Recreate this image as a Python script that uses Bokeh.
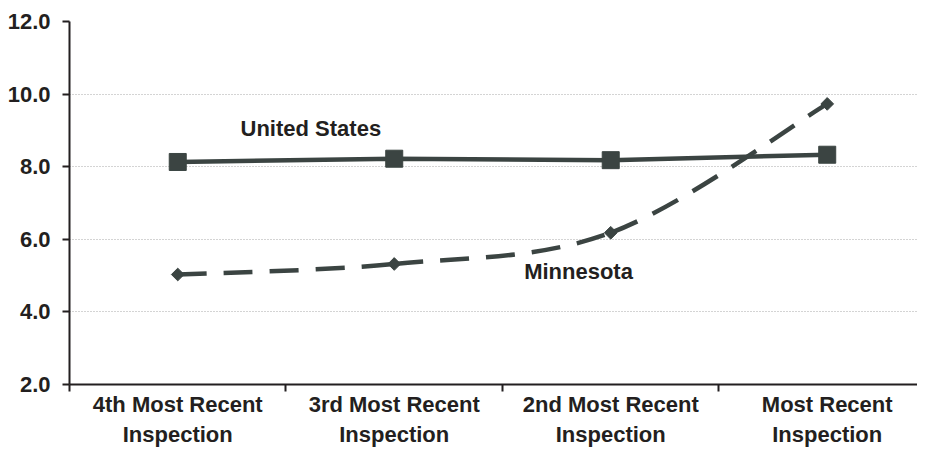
import math
from bokeh.plotting import figure
from bokeh.models import Range1d, FixedTicker, ColumnDataSource, Label
from bokeh.embed import file_html
from bokeh.resources import INLINE

categories = ["4th Most Recent\nInspection", "3rd Most Recent\nInspection",
              "2nd Most Recent\nInspection", "Most Recent\nInspection"]
us_values = [8.13, 8.22, 8.18, 8.33]
mn_values = [5.03, 5.32, 6.18, 9.73]
y_ticks = [2, 4, 6, 8, 10, 12]

xs = [i + 0.5 for i in range(len(categories))]
INK = "#3b4442"
AX = "#231f20"
FONT = "Liberation Sans"
FS = "22px"

p = figure(width=917, height=449, output_backend="svg", toolbar_location=None,
           x_range=Range1d(0, 3.917), y_range=Range1d(2, 12),
           min_border_left=69, min_border_right=0, min_border_top=21, min_border_bottom=64)
p.outline_line_color = None
p.background_fill_color = "white"

# axes
p.xaxis.ticker = FixedTicker(ticks=xs, minor_ticks=[0, 1, 2, 3])
p.xaxis.major_label_overrides = {x: c for x, c in zip(xs, categories)}
p.xaxis.major_tick_line_color = None
p.xaxis.major_tick_out = 7
p.xaxis.minor_tick_line_color = AX
p.xaxis.minor_tick_line_width = 2
p.xaxis.minor_tick_out = 7
p.xaxis.minor_tick_in = 0
p.xaxis.major_label_standoff = 0
p.yaxis.ticker = FixedTicker(ticks=y_ticks)
p.yaxis.major_label_overrides = {t: f"{t:.1f}" for t in y_ticks}
p.yaxis.major_tick_out = 7
p.yaxis.major_tick_in = 0
p.yaxis.major_tick_line_width = 2
p.yaxis.major_tick_line_color = AX
p.yaxis.minor_tick_line_color = None
p.yaxis.major_label_standoff = 12
for ax in (p.xaxis, p.yaxis):
    ax.axis_line_color = AX
    ax.axis_line_width = 2
    ax.major_label_text_font = FONT
    ax.major_label_text_font_style = "bold"
    ax.major_label_text_font_size = FS
    ax.major_label_text_color = AX

p.xgrid.grid_line_color = None
p.ygrid.ticker = FixedTicker(ticks=[t for t in y_ticks if t > 2])
p.ygrid.grid_line_color = "#a8a8a8"
p.ygrid.grid_line_dash = "1 2"
p.ygrid.grid_line_width = 1

# Minnesota smoothed dashed line (bezier segments from data)
n = len(xs)
x0, y0, x1, y1, cx0, cy0, cx1, cy1 = [], [], [], [], [], [], [], []
for i in range(n - 1):
    pa = (xs[max(i - 1, 0)], mn_values[max(i - 1, 0)])
    pb = (xs[i], mn_values[i])
    pc = (xs[i + 1], mn_values[i + 1])
    pd = (xs[min(i + 2, n - 1)], mn_values[min(i + 2, n - 1)])
    x0.append(pb[0]); y0.append(pb[1]); x1.append(pc[0]); y1.append(pc[1])
    cx0.append(pb[0] + (pc[0] - pa[0]) / 6); cy0.append(pb[1] + (pc[1] - pa[1]) / 6)
    cx1.append(pc[0] - (pd[0] - pb[0]) / 6); cy1.append(pc[1] - (pd[1] - pb[1]) / 6)
bsrc = ColumnDataSource(dict(x0=x0, y0=y0, x1=x1, y1=y1, cx0=cx0, cy0=cy0, cx1=cx1, cy1=cy1))
p.bezier("x0", "y0", "x1", "y1", "cx0", "cy0", "cx1", "cy1", source=bsrc,
         line_color=INK, line_width=4.5, line_dash="29 17")
p.scatter(xs, mn_values, marker="square", size=9, angle=math.pi / 4,
          fill_color=INK, line_color=INK)

# United States solid line
p.line(xs, us_values, line_color=INK, line_width=4.5)
p.scatter(xs, us_values, marker="square", size=17, fill_color=INK, line_color=INK)

p.add_layout(Label(x=0.79, y=9.06, text="United States", text_font=FONT, text_font_style="bold",
                   text_font_size=FS, text_color=AX, text_baseline="middle", text_align="left"))
p.add_layout(Label(x=2.10, y=5.10, text="Minnesota", text_font=FONT, text_font_style="bold",
                   text_font_size=FS, text_color=AX, text_baseline="middle", text_align="left"))

open("out.html", "w").write(file_html(p, INLINE))
